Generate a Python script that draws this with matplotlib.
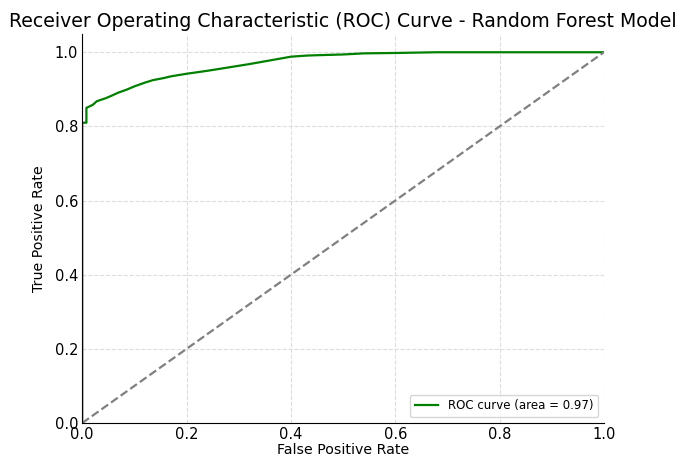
import matplotlib
matplotlib.use("Agg")
import matplotlib.pyplot as plt

fpr = [0.0, 0.0, 0.008, 0.008, 0.02, 0.028, 0.045, 0.055, 0.069, 0.085, 0.10, 0.12, 0.136, 0.155, 0.17, 0.20, 0.24, 0.28, 0.32, 0.36, 0.40, 0.43, 0.45, 0.50, 0.54, 0.60, 0.68, 1.0]
tpr = [0.0, 0.81, 0.81, 0.85, 0.858, 0.868, 0.876, 0.882, 0.891, 0.899, 0.908, 0.918, 0.925, 0.930, 0.935, 0.942, 0.950, 0.959, 0.968, 0.978, 0.988, 0.991, 0.992, 0.994, 0.997, 0.998, 1.0, 1.0]
roc_auc = 0.97
diag = [0, 1]

fig = plt.figure(figsize=(6.91, 4.58), dpi=100)
ax = fig.add_axes([0.119, 0.0764, 0.755, 0.85])
ax.plot(fpr, tpr, color="green", lw=1.6, label=f"ROC curve (area = {roc_auc:.2f})")
ax.plot(diag, diag, color="gray", lw=1.6, linestyle="--")
ax.set_xlim(0.0, 1.0)
ax.set_ylim(0.0, 1.05)
ax.set_xlabel("False Positive Rate", fontsize=10.2, labelpad=0.5)
ax.set_ylabel("True Positive Rate", fontsize=10.2, labelpad=6)
ax.set_title("Receiver Operating Characteristic (ROC) Curve - Random Forest Model", fontsize=13.6, pad=5)
ax.tick_params(labelsize=10.5, length=0, pad=3)
ax.grid(True, linestyle="--", color="#dddddd", linewidth=0.8)
ax.spines["top"].set_visible(False)
ax.spines["right"].set_visible(False)
ax.legend(loc="lower right", fontsize=8.5)
fig.savefig("out.png", dpi=100)
